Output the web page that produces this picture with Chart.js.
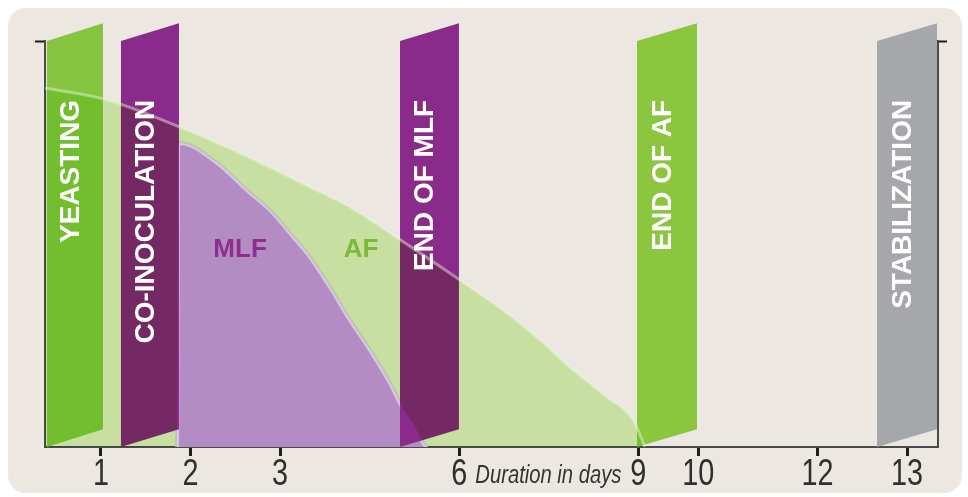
<!DOCTYPE html>
<html>
<head>
<meta charset="utf-8">
<script src="https://cdn.jsdelivr.net/npm/chart.js@4.4.1/dist/chart.umd.min.js"></script>
<style>
  html, body { margin: 0; padding: 0; background: #fff; }
  canvas { display: block; }
</style>
</head>
<body>
<canvas id="myChart" width="968" height="497"></canvas>
<script>
// x positions are in "slot" units; the day labels are not evenly spaced on the axis
const dayTickPos = [1, 2, 3, 5, 7, 7.67, 9, 10];
const dayTickLabels = ['1', '2', '3', '6', '9', '10', '12', '13'];

// alcoholic fermentation (AF) and malolactic fermentation (MLF) curves
const afX = [0.375, 1.067, 1.882, 2.474, 3.334, 3.780, 4.227, 5.009, 5.533, 5.902, 6.270, 6.650, 6.940, 7.074];
const afY = [88.4, 85.5, 78.8, 73.2, 64.0, 59.1, 52.7, 41.1, 33.0, 26.4, 19.0, 12.3, 6.7, 0];
const mlfX = [0.375, 1.85, 1.86, 1.882, 2.295, 2.664, 2.887, 3.110, 3.334, 3.557, 3.780, 4.004, 4.227, 4.339, 4.495, 4.651, 7.1];
const mlfY = [0, 0, 74.3, 74.9, 70.0, 62.6, 58.4, 52.7, 46.8, 39.4, 31.3, 23.9, 15.8, 10.8, 5.4, 0, 0];

// stage bands
const bandLabels = ['YEASTING', 'CO-INOCULATION', 'END OF MLF', 'END OF AF', 'STABILIZATION'];
const bandStart = [0.397, 1.223, 4.339, 6.985, 9.665];
const bandEnd = [1.022, 1.871, 4.997, 7.655, 10.335];
const bandColors = ['#86c53f', '#8a2a8b', '#8a2a8b', '#8cc63f', '#a6a7aa'];

const curveLabels = ['MLF', 'AF'];
const curveLabelX = [2.553, 3.903];
const curveLabelY = [48.6, 48.6];
const curveLabelColors = ['#8e2f8e', '#7db93a'];

const toPts = (xs, ys) => xs.map((x, i) => ({ x: x, y: ys[i] }));

const BAND_SKEW = 4.4;

const stagePlugin = {
  id: 'stages',
  beforeDraw(chart) {
    const ctx = chart.ctx;
    ctx.save();
    ctx.fillStyle = '#ffffff';
    ctx.fillRect(0, 0, chart.width, chart.height);
    ctx.fillStyle = '#ece8e1';
    ctx.beginPath();
    ctx.roundRect(8, 8, chart.width - 14, chart.height - 12, 18);
    ctx.fill();
    ctx.restore();
  },
  afterDatasetDraw(chart, args) {
    if (args.index !== 1) return;
    const ctx = chart.ctx;
    const xs = chart.scales.x, ys = chart.scales.y;
    ctx.save();
    bandLabels.forEach((lab, i) => {
      const x0 = xs.getPixelForValue(bandStart[i]);
      const x1 = xs.getPixelForValue(bandEnd[i]);
      ctx.fillStyle = bandColors[i];
      ctx.beginPath();
      ctx.moveTo(x0, ys.getPixelForValue(0));
      ctx.lineTo(x0, ys.getPixelForValue(100));
      ctx.lineTo(x1, ys.getPixelForValue(100 + BAND_SKEW));
      ctx.lineTo(x1, ys.getPixelForValue(BAND_SKEW));
      ctx.closePath();
      ctx.fill();
    });
    ctx.restore();
    // the AF area is laid over the bands like a multiply layer
    ctx.globalCompositeOperation = 'multiply';
  },
  beforeDatasetDraw(chart, args) {
    if (args.index === 0) chart.ctx.globalCompositeOperation = 'source-over';
  },
  afterDatasetsDraw(chart) {
    const ctx = chart.ctx;
    const xs = chart.scales.x, ys = chart.scales.y;
    ctx.save();
    ctx.globalCompositeOperation = 'source-over';
    ctx.fillStyle = '#ffffff';
    ctx.font = 'bold 28px "Liberation Sans", Arial, sans-serif';
    ctx.textAlign = 'right';
    ctx.textBaseline = 'middle';
    bandLabels.forEach((lab, i) => {
      const cx = (xs.getPixelForValue(bandStart[i]) + xs.getPixelForValue(bandEnd[i])) / 2 - 4;
      ctx.save();
      ctx.translate(cx, ys.getPixelForValue(85.5));
      ctx.rotate(-Math.PI / 2);
      ctx.fillText(lab, 0, 0);
      ctx.restore();
    });
    ctx.textAlign = 'center';
    ctx.font = 'bold 26px "Liberation Sans", Arial, sans-serif';
    curveLabels.forEach((lab, i) => {
      ctx.fillStyle = curveLabelColors[i];
      ctx.fillText(lab, xs.getPixelForValue(curveLabelX[i]), ys.getPixelForValue(curveLabelY[i]));
    });

    // narrow tick labels, centred under the x scale ticks
    const base = chart.chartArea.bottom + 38;
    ctx.fillStyle = '#2f2f2f';
    ctx.textBaseline = 'alphabetic';
    ctx.font = '36px "Liberation Sans", Arial, sans-serif';
    dayTickLabels.forEach((lab, i) => {
      ctx.save();
      ctx.translate(xs.getPixelForValue(dayTickPos[i]), base);
      ctx.scale(0.8, 1);
      ctx.textAlign = 'center';
      ctx.fillText(lab, 0, 0);
      ctx.restore();
    });

    // axis caption sits between the "6" and "9" labels
    const txt = 'Duration in days';
    ctx.font = 'italic 26px "Liberation Sans", Arial, sans-serif';
    const w = ctx.measureText(txt).width;
    const right = xs.getPixelForValue(dayTickPos[4]) - 17;
    ctx.translate(right, base - 2);
    ctx.scale(146 / w, 1);
    ctx.textAlign = 'right';
    ctx.fillStyle = '#333333';
    ctx.fillText(txt, 0, 0);
    ctx.restore();
  }
};

const data = {
  datasets: [{
    label: 'AF',
    data: toPts(afX, afY),
    backgroundColor: 'rgb(216, 246, 184)',
    borderColor: 'rgba(238, 247, 226, 0.45)',
    borderWidth: 3,
    fill: 1,
    cubicInterpolationMode: 'monotone',
    pointRadius: 0,
  }, {
    label: 'MLF',
    data: toPts(mlfX, mlfY),
    backgroundColor: '#b38cc4',
    borderColor: 'rgba(222, 204, 236, 0.9)',
    borderWidth: 4,
    fill: 'origin',
    cubicInterpolationMode: 'monotone',
    pointRadius: 0,
    segment: {
      borderColor: c => (c.p0.parsed.y === 0 && c.p1.parsed.y === 0) ? 'transparent' : undefined,
    },
  }]
};

const config = {
  type: 'line',
  data: data,
  options: {
    responsive: false,
    animation: false,
    events: [],
    layout: { padding: { left: 35, right: 21, top: 41, bottom: 0 } },
    plugins: {
      legend: { display: false },
      tooltip: { enabled: false },
    },
    scales: {
      x: {
        type: 'linear',
        min: 0.375,
        max: 10.346,
        z: 1,
        afterBuildTicks: s => { s.ticks = dayTickPos.map(v => ({ value: v })); },
        afterFit: s => { s.height = 50; },
        ticks: { display: false, autoSkip: false },
        grid: { drawOnChartArea: false, drawTicks: true, tickLength: 9, tickWidth: 3, tickColor: '#1e1e1e' },
        border: { display: true, color: '#4a4a4a', width: 2 },
      },
      y: {
        type: 'linear',
        min: 0,
        max: 100,
        z: 1,
        afterBuildTicks: s => { s.ticks = [{ value: 100 }]; },
        afterFit: s => { s.width = 10; },
        ticks: { display: false },
        grid: { drawOnChartArea: false, drawTicks: true, tickLength: 10, tickWidth: 2, tickColor: '#1e1e1e' },
        border: { display: true, color: '#4a4a4a', width: 2 },
      },
      y2: {
        type: 'linear',
        position: 'right',
        min: 0,
        max: 100,
        z: 1,
        afterBuildTicks: s => { s.ticks = [{ value: 100 }]; },
        afterFit: s => { s.width = 9; },
        ticks: { display: false },
        grid: { drawOnChartArea: false, drawTicks: true, tickLength: 9, tickWidth: 2, tickColor: '#1e1e1e' },
        border: { display: true, color: '#4a4a4a', width: 2 },
      },
    },
  },
  plugins: [stagePlugin],
};

const myChart = new Chart(document.getElementById('myChart'), config);
</script>
</body>
</html>
